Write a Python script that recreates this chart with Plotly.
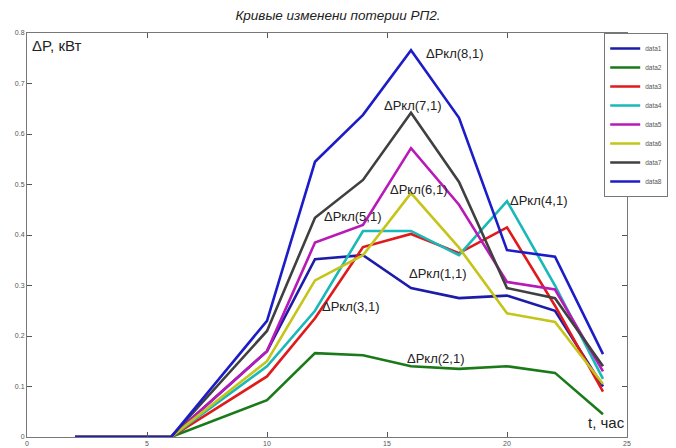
import plotly.graph_objects as go

# Time of day, hours
hours = [2, 6, 10, 12, 14, 16, 18, 20, 22, 24]

# Loss curves ΔPкл(i,1), kW
data1 = [0, 0, 0.170, 0.352, 0.360, 0.295, 0.275, 0.280, 0.250, 0.100]
data2 = [0, 0, 0.073, 0.166, 0.162, 0.140, 0.135, 0.140, 0.127, 0.045]
data3 = [0, 0, 0.120, 0.235, 0.376, 0.402, 0.364, 0.415, 0.260, 0.090]
data4 = [0, 0, 0.140, 0.250, 0.408, 0.408, 0.360, 0.467, 0.300, 0.115]
data5 = [0, 0, 0.170, 0.385, 0.420, 0.572, 0.460, 0.307, 0.292, 0.130]
data6 = [0, 0, 0.150, 0.310, 0.360, 0.483, 0.375, 0.245, 0.228, 0.105]
data7 = [0, 0, 0.210, 0.434, 0.509, 0.642, 0.505, 0.295, 0.275, 0.140]
data8 = [0, 0, 0.230, 0.545, 0.638, 0.766, 0.632, 0.370, 0.357, 0.164]

series = [data1, data2, data3, data4, data5, data6, data7, data8]
names = ["data1", "data2", "data3", "data4", "data5", "data6", "data7", "data8"]
colors = ["#1c1ca8", "#1a7a1a", "#e01a1a", "#1ab8b8",
          "#b81ab8", "#c4c41a", "#404040", "#1c1cc8"]

# Curve captions: text, x (h), y (kW)
captions = [
    ("ΔPкл(8,1)", 16.55, 0.760),
    ("ΔPкл(7,1)", 14.80, 0.657),
    ("ΔPкл(6,1)", 15.05, 0.491),
    ("ΔPкл(5,1)", 12.30, 0.436),
    ("ΔPкл(4,1)", 20.05, 0.469),
    ("ΔPкл(1,1)", 15.85, 0.323),
    ("ΔPкл(3,1)", 12.20, 0.259),
    ("ΔPкл(2,1)", 15.75, 0.156),
]

fig = go.Figure()
for ys, nm, c in zip(series, names, colors):
    fig.add_trace(go.Scatter(x=hours, y=ys, mode="lines", name=nm,
                             line=dict(color=c, width=2.6)))

font = "Liberation Sans, Arial, sans-serif"
annotations = [
    dict(x=x, y=y, text=t, showarrow=False, xanchor="left", yanchor="middle",
         font=dict(family=font, size=13, color="#222"))
    for t, x, y in captions
]
annotations += [
    dict(x=0.12, y=0.776, text="ΔP, кВт", showarrow=False, xanchor="left",
         yanchor="middle", font=dict(family=font, size=15, color="#222")),
    dict(x=23.3, y=0.028, text="t, час", showarrow=False, xanchor="left",
         yanchor="middle", font=dict(family=font, size=15, color="#222")),
]

axis_common = dict(showgrid=False, zeroline=False, showline=True, mirror="ticks",
                   linecolor="#777", linewidth=1, ticks="inside", ticklen=5,
                   tickcolor="#555", tickfont=dict(family=font, size=7, color="#555"))

fig.update_layout(
    width=676, height=448,
    margin=dict(l=27, r=49, t=33, b=11, autoexpand=False),
    paper_bgcolor="white", plot_bgcolor="white",
    title=dict(text="<i>Кривые изменени потерии РП2.</i>", x=0.5, xanchor="center",
               y=0.966, yanchor="middle",
               font=dict(family=font, size=13.5, color="#222")),
    xaxis=dict(range=[0, 25], tickvals=[0, 5, 10, 15, 20, 25], **axis_common),
    yaxis=dict(range=[0, 0.8], tickvals=[0, 0.1, 0.2, 0.3, 0.4, 0.5, 0.6, 0.7, 0.8],
               **axis_common),
    legend=dict(x=0.962, y=1.0, xanchor="left", yanchor="top",
                bgcolor="white", bordercolor="#777", borderwidth=1,
                font=dict(family=font, size=6.5, color="#555"),
                tracegroupgap=0, itemwidth=30),
    annotations=annotations,
    showlegend=True,
)

fig.write_html("out.html")
